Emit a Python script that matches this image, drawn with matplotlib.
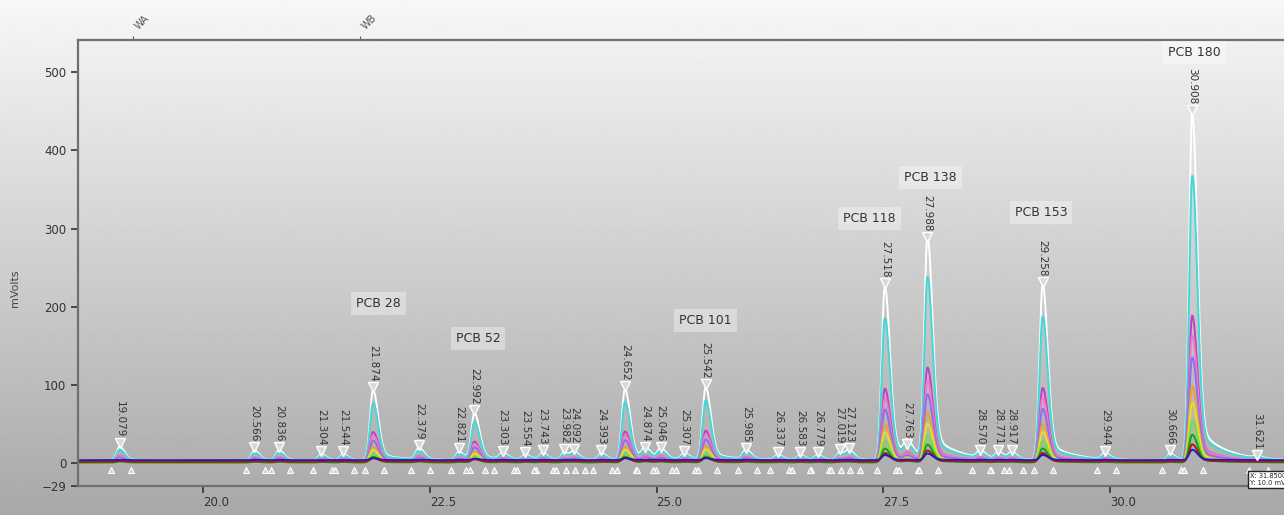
import numpy as np
import matplotlib.pyplot as plt

# peak table: retention time (min), apex of top trace (mV)
peak_rt = [19.079, 20.566, 20.836, 21.304, 21.544, 21.874, 22.379, 22.821, 22.992,
           23.303, 23.554, 23.743, 23.982, 24.092, 24.393, 24.652, 24.874, 25.046,
           25.307, 25.542, 25.985, 26.337, 26.583, 26.779, 27.019, 27.123, 27.518,
           27.763, 27.988, 28.570, 28.771, 28.917, 29.258, 29.944, 30.666, 30.908, 31.621]
peak_height = [18, 13, 13, 8, 8, 90, 15, 11, 60, 8, 7, 9, 10, 10, 9, 91, 13, 13, 8, 93,
               12, 7, 7, 7, 10, 12, 222, 17, 281, 9, 9, 9, 224, 8, 9, 444, 3]

# calibration levels overlaid (fraction of top trace) and their colours
level_scale = [1.0, 0.82, 0.42, 0.36, 0.30, 0.22, 0.17, 0.12, 0.08, 0.05, 0.03]
level_color = ['#ffffff', '#40d8d8', '#c040c8', '#f078c8', '#8c70f0', '#f0a030',
               '#e0e030', '#70e040', '#10a010', '#c01010', '#2020b8']
level_base = [3, 3, 2, 3, 2, 1, 2, 1, 1, 2, 4]

compound_name = ['PCB 28', 'PCB 52', 'PCB 101', 'PCB 118', 'PCB 138', 'PCB 153', 'PCB 180']
compound_rt = [21.93, 23.03, 25.54, 27.35, 28.02, 29.24, 30.93]
compound_y = [204, 160, 182, 313, 365, 320, 525]

window_name = ['WA', 'WB']
window_rt = [19.23, 21.73]

xticks = [20.0, 22.5, 25.0, 27.5, 30.0]
yticks = [-29, 0, 100, 200, 300, 400, 500]


def peak_shape(t, rt, h):
    s = np.where(t < rt, 0.034, 0.055)
    main = np.exp(-0.5 * ((t - rt) / s) ** 2)
    tail = np.where(t > rt, 0.12 * np.exp(-(t - rt) / 0.28), 0.0)
    return h * (main + (1 - main) * tail)


fig = plt.figure(figsize=(12.84, 5.15), dpi=100)

# grey gradient background like the software screenshot
bg = fig.add_axes([0, 0, 1, 1], zorder=-5)
grad = np.linspace(0.97, 0.66, 256).reshape(-1, 1)
bg.imshow(grad, aspect='auto', cmap='gray', vmin=0, vmax=1, extent=[0, 1, 0, 1])
bg.axis('off')

ax = fig.add_axes([78 / 1284, 29 / 515, 1 - 78 / 1284, 446 / 515])
ax.set_facecolor('none')

t = np.linspace(18.6, 31.95, 6000)
signal = np.zeros_like(t)
for rt, h in zip(peak_rt, peak_height):
    signal += peak_shape(t, rt, h)

for sc, col, b in zip(level_scale, level_color, level_base):
    ax.plot(t, signal * sc + b, color=col, lw=1.4, zorder=2)

# apex markers and retention time labels
for rt, h in zip(peak_rt, peak_height):
    ax.plot(rt, h + 8, marker='v', ms=7, mfc='#d8d8d8', mec='white', mew=1, zorder=4)
    ax.text(rt, h + 15, f'{rt:.3f}', rotation=270, ha='center', va='bottom',
            fontsize=7.5, color='#333333', zorder=5)
    for dt in (-0.09, 0.12):
        ax.plot(rt + dt, -9, marker='^', ms=5, mfc='#cfcfcf', mec='white', mew=0.8, zorder=3)

for name, rt, y in zip(compound_name, compound_rt, compound_y):
    ax.text(rt, y, name, ha='center', va='center', fontsize=9, color='#333333',
            bbox=dict(boxstyle='square,pad=0.4', fc='white', ec='none', alpha=0.35))

ax.set_xlim(18.62, 31.92)
ax.set_ylim(-29, 541)
ax.set_xticks(xticks)
ax.set_xticklabels([f'{v:.1f}' for v in xticks])
for lab in ax.get_xticklabels():
    lab.set_horizontalalignment('left')
ax.set_yticks(yticks)
ax.tick_params(colors='#333333', labelsize=8.5, length=5, width=1.2, direction='out')
ax.tick_params(axis='x', pad=2)
for side in ('left', 'bottom', 'top'):
    ax.spines[side].set_color('#707070')
    ax.spines[side].set_linewidth(1.6)
ax.spines['right'].set_visible(False)

top = ax.secondary_xaxis('top')
top.set_xticks(window_rt)
top.set_xticklabels(window_name, rotation=45, ha='left', fontsize=7, color='#333333')
top.tick_params(length=3, colors='#555555')
top.spines['top'].set_visible(False)

fig.text(0.012, 0.44, 'mVolts', rotation=90, ha='center', va='center', fontsize=8, color='#444444')
fig.text(0.9735, 0.058, 'X: 31.8500\nY: 10.0 mV', fontsize=4.8, color='#222222',
         bbox=dict(boxstyle='square,pad=0.35', fc='white', ec='#222222', lw=1))

fig.savefig('out.png', dpi=100)
